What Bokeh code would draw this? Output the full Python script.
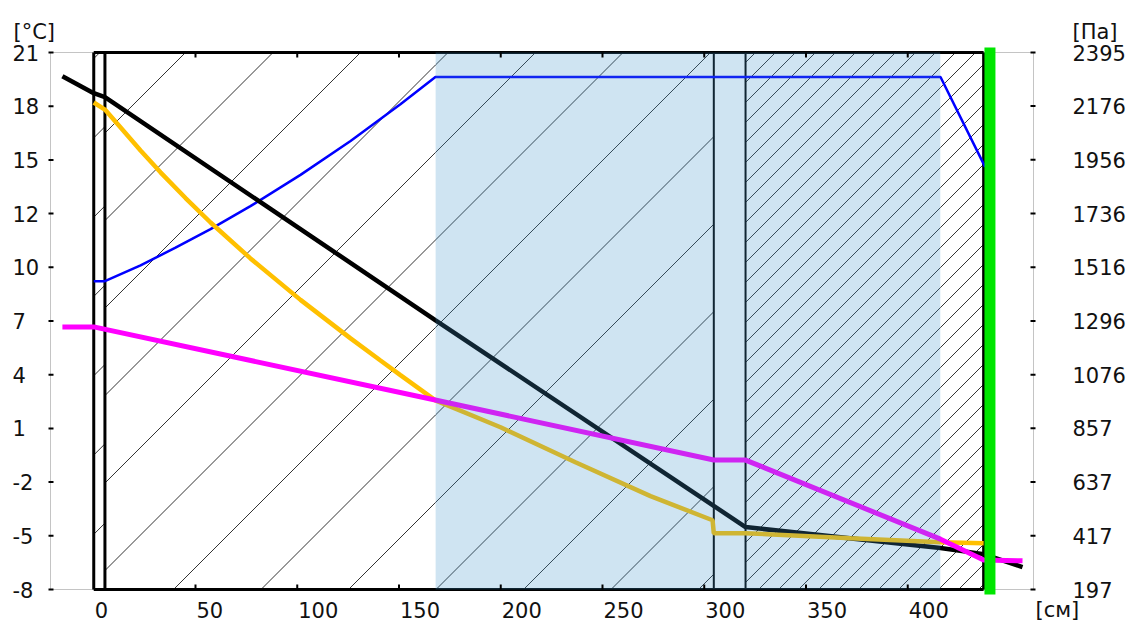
import numpy as np
from bokeh.plotting import figure
from bokeh.models import Range1d
from bokeh.core.properties import value
from bokeh.embed import file_html
from bokeh.resources import INLINE

# ---------------- data ----------------
# wall temperature profile [°C] vs position [cm]
temp_x = [-15.4, 0.0, 5.5, 167.8, 320.3, 416.1, 437.3, 456.4]
temp_y = [19.72, 18.80, 18.59, 6.55, -4.63, -5.76, -6.09, -6.79]

# magenta curve [°C]
mag_x = [-15.4, 0.0, 167.8, 304.7, 320.3, 416.1, 437.3, 456.4]
mag_y = [6.18, 6.18, 2.23, -1.01, -1.01, -5.28, -6.41, -6.45]

# yellow curve [°C]
dew_x = [0.0, 5.5, 13.2, 23.0, 32.8, 45.1, 57.4, 77.0, 101.6, 126.2, 140.9, 150.7, 167.9,
         199.9, 236.7, 273.6, 304.1, 304.7, 320.3, 371.9, 416.1, 437.3]
dew_y = [18.30, 17.92, 16.95, 15.71, 14.53, 13.14, 11.82, 9.88, 7.64, 5.56, 4.37, 3.58, 2.21,
         0.76, -1.13, -2.96, -4.26, -4.96, -4.96, -5.23, -5.45, -5.50]

# blue curve [Pa]
pres_x = [0.0, 5.5, 23.0, 40.2, 57.4, 77.0, 101.6, 126.2, 150.7, 167.9, 416.1, 438.0]
pres_y = [1459, 1459, 1524, 1596, 1672, 1766, 1894, 2033, 2183, 2295, 2295, 1927]

# wall layers [cm]
layer_edges = [0.0, 5.5, 168.0, 304.7, 320.3, 416.0, 437.3]
blue_zone = [168.0, 416.0]
surface_marker = [437.7, 443.1]

# axes
left_tick_labels = ["-8", "-5", "-2", "1", "4", "7", "10", "12", "15", "18", "21"]
right_ticks = [197, 417, 637, 857, 1076, 1296, 1516, 1736, 1956, 2176, 2395]
x_ticks = [0, 50, 100, 150, 200, 250, 300, 350, 400]
t_range = [-8.0, 21.0]
x_box = [-21.25, 461.8]
pa_range = [197, 2395]

# ---------------- layout (pixels) ----------------
FONT = "DejaVu Sans"
FS = "21px"
TXT = "#111111"
W, H = 1134, 623
BL, BR, BT, BB = 50, 1033, 52, 589          # plot box in page pixels
ppx = (BR - BL) / (x_box[1] - x_box[0])
ppy = (BB - BT) / (t_range[1] - t_range[0])
ppp = (BB - BT) / (pa_range[1] - pa_range[0])


def xd(px):
    return x_box[0] + (px - BL) / ppx


def yd(py):
    return t_range[1] - (py - BT) / ppy


def xp(x):
    return BL + (x - x_box[0]) * ppx


p = figure(width=W, height=H, title=None,
           x_range=Range1d(xd(0), xd(W)), y_range=Range1d(yd(H), yd(0)),
           x_axis_type=None, y_axis_type=None,
           output_backend="svg", toolbar_location=None,
           min_border=0, min_border_left=0, min_border_right=0,
           min_border_top=0, min_border_bottom=0)
p.extra_y_ranges = {"pa": Range1d(pa_range[0] - (H - BB) / ppp, pa_range[1] + BT / ppp)}
p.grid.visible = False
p.outline_line_color = None
p.background_fill_color = "white"
p.border_fill_color = "white"

Y0, Y1 = t_range


# ---------------- hatching ----------------
def hatch(xa, xb, spacing, offset):
    a, b = xp(xa), xp(xb)
    xs, ys = [], []
    k0 = int(np.ceil((a + BT - offset) / spacing))
    k1 = int(np.floor((b + BB - offset) / spacing))
    for k in range(k0, k1 + 1):
        c = offset + k * spacing
        x1, x2 = max(a, c - BB), min(b, c - BT)
        if x2 <= x1:
            continue
        xs.append([xd(x1), xd(x2)])
        ys.append([yd(c - x1), yd(c - x2)])
    return xs, ys


hatch_style = [(79.3, 72), (87.5, 62), (87.5, 62), None, (20.0, 7), (20.0, 7)]
for a, b, hs in zip(layer_edges[:-1], layer_edges[1:], hatch_style):
    if hs is None:
        continue
    hx, hy = hatch(a, b, *hs)
    p.multi_line(hx, hy, line_color="#333333", line_width=1)

# gray plot box
p.quad(left=[x_box[0]], right=[x_box[1]], bottom=[Y0], top=[Y1],
       fill_color=None, line_color="#c4c4c4", line_width=1)

# wall frame
p.segment(x0=[layer_edges[0]] * 2, x1=[layer_edges[-1]] * 2, y0=[Y0, Y1], y1=[Y0, Y1],
          line_color="black", line_width=3)
p.segment(x0=[layer_edges[0], layer_edges[1], layer_edges[-1]],
          x1=[layer_edges[0], layer_edges[1], layer_edges[-1]],
          y0=[Y0] * 3, y1=[Y1] * 3, line_color="black", line_width=3)
p.segment(x0=[layer_edges[3], layer_edges[4]], x1=[layer_edges[3], layer_edges[4]],
          y0=[Y0] * 2, y1=[Y1] * 2, line_color="black", line_width=2)

# ---------------- curves ----------------
p.line(pres_x, pres_y, y_range_name="pa", line_color="#0000ff", line_width=2.5)
p.line(temp_x, temp_y, line_color="black", line_width=4.5)
p.line(dew_x, dew_y, line_color="#ffc000", line_width=4.5)
p.line(mag_x, mag_y, line_color="#ff00ff", line_width=5)

# translucent blue layer on top
p.quad(left=[blue_zone[0]], right=[blue_zone[1]], bottom=[Y0], top=[Y1],
       fill_color="#4094cc", fill_alpha=0.25, line_color=None)

# ---------------- ticks ----------------
lt = list(np.linspace(Y0, Y1, len(left_tick_labels)))
p.segment(x0=[xd(BL - 2)] * len(lt), x1=[xd(BL + 3)] * len(lt), y0=lt, y1=lt,
          line_color="black", line_width=2)
p.segment(x0=[xd(BR - 3)] * len(right_ticks), x1=[xd(BR + 2)] * len(right_ticks),
          y0=right_ticks, y1=right_ticks, y_range_name="pa", line_color="black", line_width=2)
xt = x_ticks[1:]
p.segment(x0=xt, x1=xt, y0=[Y0] * len(xt), y1=[yd(BB - 5)] * len(xt),
          line_color="black", line_width=2)
p.segment(x0=xt, x1=xt, y0=[Y1] * len(xt), y1=[yd(BT + 5)] * len(xt),
          line_color="black", line_width=2)

# green outer surface marker
p.quad(left=[surface_marker[0]], right=[surface_marker[1]], bottom=[yd(594)], top=[yd(47)],
       fill_color="#00e600", line_color=None)

# ---------------- texts ----------------
tstyle = dict(text_font=value(FONT), text_font_size=value(FS), text_color=TXT,
              text_align=value("left"))
p.text(x=[xd(12)] * len(lt), y=lt, text=left_tick_labels, text_baseline=value("middle"), **tstyle)
p.text(x=[xd(1072)] * len(right_ticks), y=right_ticks, text=[str(v) for v in right_ticks],
       y_range_name="pa", text_baseline=value("middle"), **tstyle)
p.text(x=x_ticks, y=[yd(609)] * len(x_ticks), text=[str(v) for v in x_ticks], x_offset=1,
       text_baseline=value("alphabetic"), **tstyle)
p.text(x=[xd(13), xd(1072)], y=[yd(31.5)] * 2, text=["[°C]", "[Па]"],
       text_baseline=value("alphabetic"), **tstyle)
p.text(x=[xd(1035)], y=[yd(609)], text=["[см]"], text_baseline=value("alphabetic"), **tstyle)

open("out.html", "w").write(file_html(p, INLINE))
